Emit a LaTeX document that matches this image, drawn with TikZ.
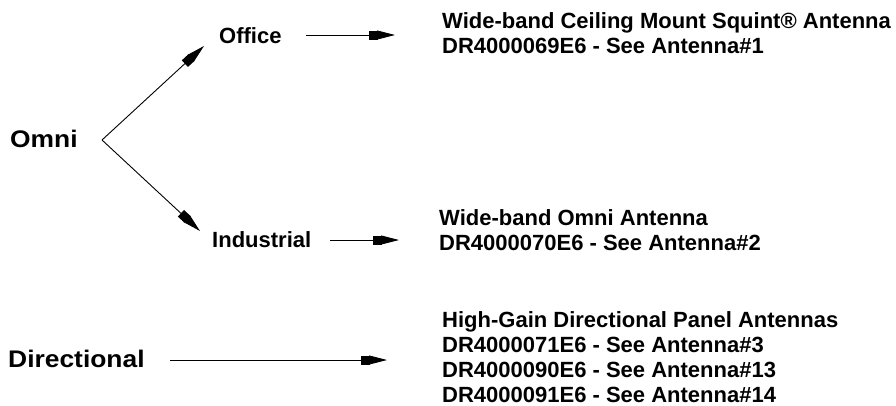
\documentclass[tikz,border=0pt]{standalone}
\usepackage{fontspec}
\setmainfont{Liberation Sans}
\newfontfamily\widefont[FakeStretch=1.1]{Liberation Sans}
\usetikzlibrary{arrows.meta}
\tikzset{
  lbl/.style={anchor=base west, inner sep=0pt, font=\fontsize{22}{25}\selectfont\bfseries},
  big/.style={anchor=base west, inner sep=0pt, font=\widefont\fontsize{24}{28}\selectfont\bfseries},
  blk/.style={anchor=base west, inner sep=0pt, align=left, font=\fontsize{22}{25}\selectfont\bfseries},
  arr/.style={line width=0.9pt, -{Rectangle[length=9pt,width=9pt,sep=-1pt]Triangle[length=18pt,width=9pt]}}
}
\begin{document}
\begin{tikzpicture}[x=1pt,y=-1pt]
\useasboundingbox (0,0) rectangle (896,405);
\node[big] (omni) at (10,147) {Omni};
\node[big] (dir) at (8,367) {Directional};
\node[lbl] (office) at (219,43) {Office};
\node[lbl] (ind) at (212,247) {Industrial};
\node[blk] (b1) at (442,53) {Wide-band Ceiling Mount Squint® Antenna\\DR4000069E6 - See Antenna\#1};
\node[blk] (b2) at (439,250) {Wide-band Omni Antenna\\DR4000070E6 - See Antenna\#2};
\node[blk] (b3) at (442,402) {High-Gain Directional Panel Antennas\\DR4000071E6 - See Antenna\#3\\DR4000090E6 - See Antenna\#13\\DR4000091E6 - See Antenna\#14};
\coordinate (v) at (102,140);
\coordinate (t1) at (204,46);
\coordinate (t2) at (200,231);
\coordinate (o1) at (306,35);
\coordinate (o2) at (395,35);
\coordinate (i1) at (330,240);
\coordinate (i2) at (399,240);
\coordinate (d1) at (170,360);
\coordinate (d2) at (387,360);
\draw[arr] (v) -- (t1);
\draw[arr] (v) -- (t2);
\draw[arr] (o1) -- (o2);
\draw[arr] (i1) -- (i2);
\draw[arr] (d1) -- (d2);
\end{tikzpicture}
\end{document}
